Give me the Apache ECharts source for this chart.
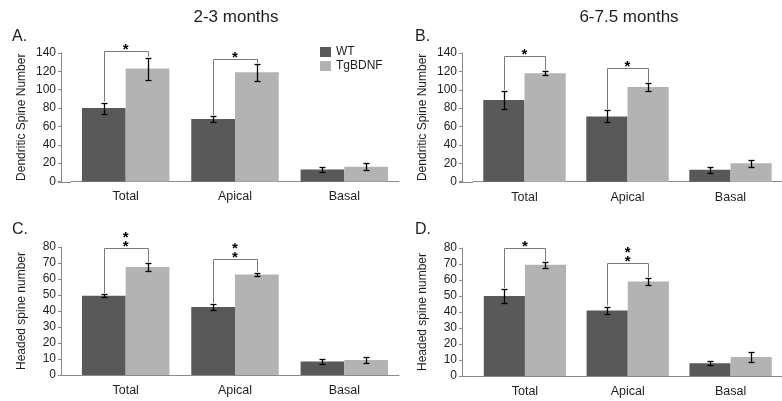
<!DOCTYPE html>
<html>
<head>
<meta charset="utf-8">
<script src="https://cdn.jsdelivr.net/npm/echarts@6/dist/echarts.min.js"></script>
<style>html,body{margin:0;padding:0;background:#fff;}#c{width:782px;height:401px;}</style>
</head>
<body>
<div id="c"></div>
<script>
// ---- data ----
const categories = ['Total', 'Apical', 'Basal'];
const seriesNames = ['WT', 'TgBDNF'];
const panelTitles = ['2-3 months', '6-7.5 months'];
const panelLetters = ['A.', 'B.', 'C.', 'D.'];
const yNames = ['Dendritic Spine Number', 'Dendritic Spine Number', 'Headed spine number', 'Headed spine number'];
const yMax = [140, 140, 80, 80];
const yInterval = [20, 20, 10, 10];

const wtA = [80, 68, 13];      const wtAErr = [6, 3.3, 3];
const tgA = [123, 119, 16];    const tgAErr = [12, 9, 4];
const bracketA = [142, 134, null]; const starsA = [1, 1, 0];

const wtB = [89, 71, 13];      const wtBErr = [9.5, 6.5, 3.5];
const tgB = [118, 103, 20];    const tgBErr = [2, 4, 4];
const bracketB = [137, 124, null]; const starsB = [1, 1, 0];

const wtC = [49.5, 42.5, 8.5]; const wtCErr = [1, 2, 1.5];
const tgC = [67.5, 62.8, 9.3]; const tgCErr = [2.2, 1, 2];
const bracketC = [79.6, 72.5, null]; const starsC = [2, 2, 0];

const wtD = [50, 41, 8];       const wtDErr = [4.3, 2.4, 1.4];
const tgD = [69.5, 59, 11.8];  const tgDErr = [1.7, 2.2, 3.3];
const bracketD = [80.3, 70.4, null]; const starsD = [1, 2, 0];

// ---- layout / style ----
const FONT = 'Liberation Sans, Arial, sans-serif';
const WT_COLOR = '#595959';
const TG_COLOR = '#b3b3b3';
const AXIS_COLOR = '#8a8a8a';
const TEXT_COLOR = '#1e1e1e';

const grids = [
  { left: 71,  right: 383,   top: 53,  bottom: 219.5 },
  { left: 473, right: -10.5, top: 53,  bottom: 219.3 },
  { left: 71,  right: 383,   top: 247, bottom: 26 },
  { left: 473.5, right: -12.5, top: 248, bottom: 25 }
];
const yOffsets = [10, 11, 10, 11.5];

const panels = [
  { wt: wtA, wtErr: wtAErr, tg: tgA, tgErr: tgAErr, br: bracketA, st: starsA },
  { wt: wtB, wtErr: wtBErr, tg: tgB, tgErr: tgBErr, br: bracketB, st: starsB },
  { wt: wtC, wtErr: wtCErr, tg: tgC, tgErr: tgCErr, br: bracketC, st: starsC },
  { wt: wtD, wtErr: wtDErr, tg: tgD, tgErr: tgDErr, br: bracketD, st: starsD }
];

function errRender(side) {
  return function (params, api) {
    const idx = api.value(0), m = api.value(1), e = api.value(2);
    const band = api.size([1, 0])[0];
    const off = side * 0.2 * band;
    const t = api.coord([idx, m + e]);
    const b = api.coord([idx, m - e]);
    const x = Math.round(t[0] + off) + 0.5;
    const ty = Math.round(t[1]) + 0.5, by = Math.round(b[1]) + 0.5;
    const cap = 3;
    const st = { stroke: '#000', lineWidth: 1.3 };
    return {
      type: 'group',
      children: [
        { type: 'line', shape: { x1: x, y1: ty, x2: x, y2: by }, style: st },
        { type: 'line', shape: { x1: x - cap, y1: ty, x2: x + cap, y2: ty }, style: st },
        { type: 'line', shape: { x1: x - cap, y1: by, x2: x + cap, y2: by }, style: st }
      ]
    };
  };
}

function bracketRender(params, api) {
  const idx = api.value(0), level = api.value(1), wtTop = api.value(2), tgTop = api.value(3), n = api.value(4);
  const band = api.size([1, 0])[0];
  const c = api.coord([idx, level]);
  const xL = Math.round(c[0] - 0.2 * band) + 0.5;
  const xR = Math.round(c[0] + 0.2 * band) + 0.5;
  const yL = Math.round(c[1]) + 0.5;
  const yW = api.coord([idx, wtTop])[1] - 1;
  const yT = api.coord([idx, tgTop])[1] - 1;
  const children = [{
    type: 'polyline',
    shape: { points: [[xL, yW], [xL, yL], [xR, yL], [xR, yT]] },
    style: { stroke: '#7a7a7a', lineWidth: 1, fill: null }
  }];
  for (let k = 0; k < n; k++) {
    children.push({
      type: 'text',
      style: {
        text: '*', x: c[0], y: yL - 2 - k * 8.3,
        textAlign: 'center', textVerticalAlign: 'middle',
        font: 'bold 15px ' + FONT, fill: '#000'
      }
    });
  }
  return { type: 'group', children: children };
}

const xAxis = [], yAxis = [], series = [];
panels.forEach((p, i) => {
  xAxis.push({
    type: 'category', gridIndex: i, data: categories,
    axisLine: { lineStyle: { color: AXIS_COLOR, width: 1 } },
    axisTick: { show: false },
    axisLabel: { color: TEXT_COLOR, fontSize: 12.5, fontFamily: FONT, margin: 9 }
  });
  yAxis.push({
    type: 'value', gridIndex: i, min: 0, max: yMax[i], interval: yInterval[i],
    offset: yOffsets[i],
    name: yNames[i], nameLocation: 'middle', nameRotate: 90, nameGap: 33,
    nameTextStyle: { color: TEXT_COLOR, fontSize: 12, fontFamily: FONT },
    axisLine: { show: true, lineStyle: { color: AXIS_COLOR, width: 1 } },
    axisTick: { show: true, length: 3, lineStyle: { color: AXIS_COLOR } },
    splitLine: { show: false },
    axisLabel: { color: TEXT_COLOR, fontSize: 12, fontFamily: FONT, margin: 5 }
  });
  series.push({
    name: seriesNames[0], type: 'bar', xAxisIndex: i, yAxisIndex: i,
    data: p.wt, barGap: '0%', barCategoryGap: '20%',
    itemStyle: { color: WT_COLOR }, silent: true, animation: false
  });
  series.push({
    name: seriesNames[1], type: 'bar', xAxisIndex: i, yAxisIndex: i,
    data: p.tg, barGap: '0%', barCategoryGap: '20%',
    itemStyle: { color: TG_COLOR }, silent: true, animation: false
  });
  series.push({
    name: 'wtErr' + i, type: 'custom', xAxisIndex: i, yAxisIndex: i, z: 5,
    renderItem: errRender(-1), animation: false, silent: true,
    data: categories.map((c, j) => [j, p.wt[j], p.wtErr[j]])
  });
  series.push({
    name: 'tgErr' + i, type: 'custom', xAxisIndex: i, yAxisIndex: i, z: 5,
    renderItem: errRender(1), animation: false, silent: true,
    data: categories.map((c, j) => [j, p.tg[j], p.tgErr[j]])
  });
  const brData = [];
  categories.forEach((c, j) => {
    if (p.br[j] != null) brData.push([j, p.br[j], p.wt[j] + p.wtErr[j], p.tg[j] + p.tgErr[j], p.st[j]]);
  });
  series.push({
    name: 'br' + i, type: 'custom', xAxisIndex: i, yAxisIndex: i, z: 6, clip: false,
    renderItem: bracketRender, animation: false, silent: true,
    data: brData
  });
});

const titles = [
  { text: panelTitles[0], left: 236, top: 9, textAlign: 'center' },
  { text: panelTitles[1], left: 629, top: 9, textAlign: 'center' }
].map(t => Object.assign(t, { padding: 0, textStyle: { fontSize: 17, fontWeight: 'normal', color: TEXT_COLOR, fontFamily: FONT } }));
const letterPos = [[12, 29], [415, 29], [12, 222], [415, 222]];
panelLetters.forEach((l, i) => {
  titles.push({ text: l, left: letterPos[i][0], top: letterPos[i][1], padding: 0,
    textStyle: { fontSize: 16, fontWeight: 'normal', color: TEXT_COLOR, fontFamily: FONT } });
});

const chart = echarts.init(document.getElementById('c'), null, { renderer: 'canvas' });
chart.setOption({
  backgroundColor: '#fff',
  animation: false,
  title: titles,
  legend: {
    data: seriesNames, orient: 'vertical', left: 320, top: 46,
    itemWidth: 11, itemHeight: 10, itemGap: 2, icon: 'rect', padding: 0,
    textStyle: { fontSize: 12, color: TEXT_COLOR, fontFamily: FONT }
  },
  grid: grids,
  xAxis: xAxis,
  yAxis: yAxis,
  series: series
});

// extend each x-axis line left to meet the offset y-axis (as in the reference)
const ext = [];
grids.forEach((g, i) => {
  const y0 = chart.convertToPixel({ yAxisIndex: i }, 0);
  ext.push({
    type: 'line', silent: true,
    shape: { x1: g.left - yOffsets[i] - 3, y1: Math.round(y0) + 0.5, x2: g.left, y2: Math.round(y0) + 0.5 },
    style: { stroke: AXIS_COLOR, lineWidth: 1 }
  });
});
chart.setOption({ graphic: ext });
</script>
</body>
</html>
